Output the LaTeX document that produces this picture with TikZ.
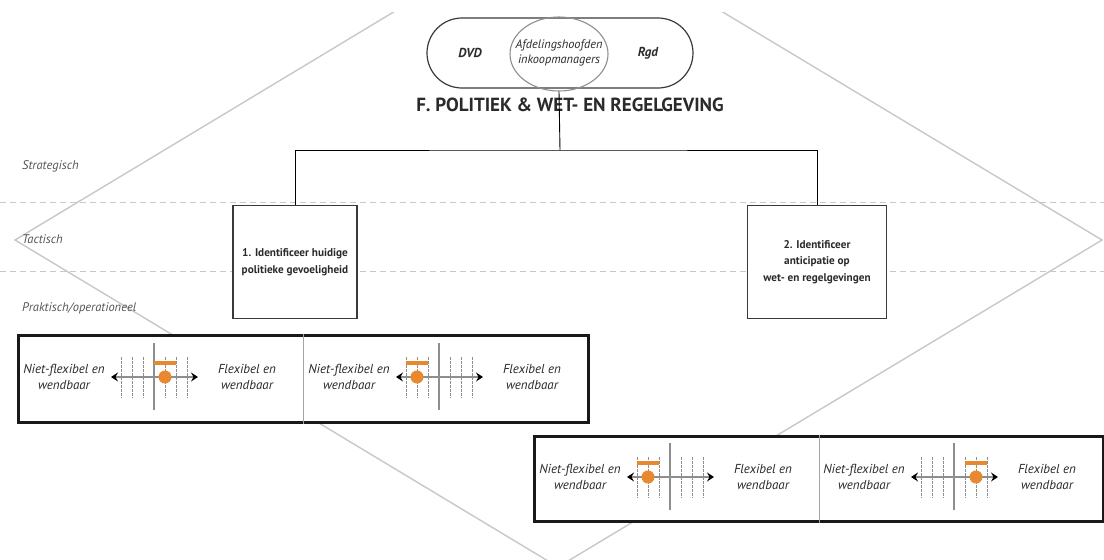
\documentclass[tikz,border=0pt]{standalone}
\usepackage{fontspec}
\setmainfont{PT Sans}
\usetikzlibrary{arrows.meta,shapes.geometric,shapes.misc}

\definecolor{flexorange}{HTML}{E8892F}
\definecolor{framegray}{HTML}{3A3A3A}
\definecolor{softgray}{HTML}{C8C8C8}
\definecolor{midgray}{HTML}{8E8E8E}
\definecolor{textgray}{HTML}{2A2A2A}

\tikzset{
  diamondline/.style={draw=softgray, line width=1.4pt},
  levelline/.style={draw=softgray, line width=0.9pt, dash pattern=on 6pt off 4pt},
  levellabel/.style={anchor=west, inner sep=0pt, font=\fontsize{12.5}{14}\selectfont\itshape, text=textgray!80},
  actorpill/.style={draw=framegray, line width=1.2pt, rounded rectangle, minimum width=266pt, minimum height=70pt, inner sep=0pt},
  actorring/.style={draw=midgray, line width=1.1pt, ellipse, minimum width=98pt, minimum height=74pt, inner sep=0pt},
  actortext/.style={inner sep=0pt, align=center, text=textgray, font=\fontsize{12.3}{14.5}\selectfont\itshape},
  actorname/.style={inner sep=0pt, text=textgray, font=\fontsize{13}{15}\selectfont\bfseries\itshape},
  titletext/.style={inner sep=0pt, text=textgray, font=\fontsize{19}{21}\selectfont\bfseries},
  stepbox/.style={draw=framegray, fill=white, line width=1.1pt, align=center, inner sep=2pt, text=textgray, font=\fontsize{11.2}{16.5}\selectfont\bfseries},
  tree/.style={draw=black, line width=0.9pt},
  panelbox/.style={draw=black!90, fill=white, line width=3pt, anchor=north west, inner sep=0pt},
  divider/.style={draw=midgray!80, line width=0.9pt},
  scaleaxis/.style={draw=midgray, line width=1.3pt},
  scaledash/.style={draw=midgray, line width=0.9pt, dash pattern=on 2.5pt off 1.5pt},
  scalearrow/.style={draw=midgray, line width=1.3pt, {Stealth[black,length=7pt,width=9pt,inset=2.5pt]}-{Stealth[black,length=7pt,width=9pt,inset=2.5pt]}},
  scalebar/.style={draw=flexorange, line width=3.6pt},
  flexlabel/.style={inner sep=0pt, align=center, text=textgray, font=\fontsize{13}{15.5}\selectfont\itshape},
}

% One flexibility scale: #1 left edge, #2 top edge, #3 offset of the marker, #4 name prefix
\newcommand\flexwidget[4]{%
  \begin{scope}[shift={(#1,#2)}]
    \foreach \dx in {-33,-22,-11,11,22,33}
      \draw[scaledash] (137+\dx,23) -- (137+\dx,64);
    \draw[scaleaxis] (137,9) -- (137,76);
    \coordinate (#4-lo) at (94,43);
    \coordinate (#4-hi) at (181,43);
    \draw[scalearrow] (#4-lo) -- (#4-hi);
    \pgfmathsetmacro\markx{137+#3}
    \draw[scalebar] (\markx-11,29) -- (\markx+11,29);
    \fill[flexorange] (\markx,43) circle (6.5pt);
    \node[flexlabel] (#4-left) at (47,43) {Niet-flexibel en\\wendbaar};
    \node[flexlabel] (#4-right) at (230,43) {Flexibel en\\wendbaar};
  \end{scope}}

\begin{document}
\begin{tikzpicture}[x=1pt,y=-1pt]
\useasboundingbox[fill=white] (0,0) rectangle (1104,560);

% background diamond
\begin{scope}
  \clip (0,12) rectangle (1104,560);
  \draw[diamondline] (15,240) -- (558,-87) -- (1102,240) -- (558,567) -- cycle;
\end{scope}

% level separators and labels
\draw[levelline] (0,202) -- (1104,202);
\draw[levelline] (0,271) -- (1104,271);
\node[levellabel] (lvl-s) at (22,166) {Strategisch};
\node[levellabel] (lvl-t) at (22,239) {Tactisch};
\node[levellabel] (lvl-p) at (22,308) {Praktisch/operationeel};

% actors
\node[actorpill] (pill) at (560,53) {};
\node[actorring] (ring) at (559,54) {};
\node[actorname] (dvd) at (470,53) {DVD};
\node[actorname] (rgd) at (648,53) {Rgd};
\node[actortext] (heads) at (559,53) {Afdelingshoofden\\inkoopmanagers};

\node[titletext] (title) at (570,105) {F. POLITIEK \& WET- EN REGELGEVING};

% steps
\node[stepbox, minimum width=124pt, minimum height=113pt] (step1) at (295,262) {1. Identificeer huidige\\politieke gevoeligheid};
\node[stepbox, minimum width=139pt, minimum height=113pt] (step2) at (817,262) {2. Identificeer\\anticipatie op\\wet- en regelgevingen};

\coordinate (fork) at (560,150);
\draw[tree] (ring.south) -- (fork);
\draw[tree] (step1.north) |- (fork) -| (step2.north);

% scale panels
\node[panelbox, minimum width=570pt, minimum height=87pt] (panelA) at (17,334) {};
\draw[divider] (panelA.north) -- (panelA.south);
\flexwidget{17}{334}{11}{sa}
\flexwidget{302}{334}{-22}{sb}

\node[panelbox, minimum width=569pt, minimum height=85pt] (panelB) at (533,435) {};
\draw[divider] (panelB.north) -- (panelB.south);
\flexwidget{533}{434}{-22}{sc}
\flexwidget{817}{434}{22}{sd}
\end{tikzpicture}
\end{document}
